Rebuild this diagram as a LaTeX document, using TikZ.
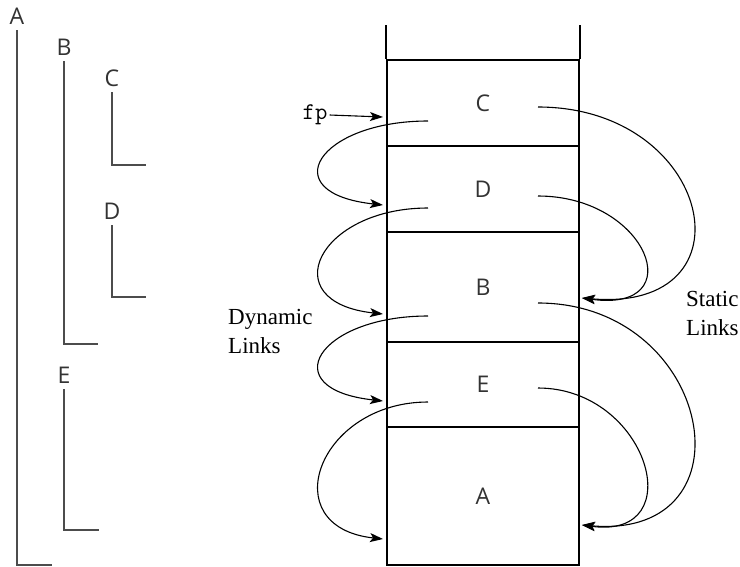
\documentclass[tikz,border=0pt]{standalone}
\usepackage{fontspec}
\setmainfont{Liberation Serif}
\newfontfamily\framefont{Open Sans}
\usetikzlibrary{arrows.meta, positioning}

\begin{document}
\begin{tikzpicture}[
    x=1pt, y=-1pt,
    >={Stealth[length=13pt, width=9pt, inset=3pt]},
    frame/.style={rectangle, draw=black, line width=1.8pt, minimum width=192pt, inner sep=0pt, font=\framefont\fontsize{23}{27}\selectfont, text=black!80},
    scopelbl/.style={anchor=south, inner xsep=0pt, inner ysep=5pt, font=\framefont\fontsize{23}{27}\selectfont, text=black!80},
    scopeline/.style={draw=black!70, line width=1.4pt},
    link/.style={->, line width=1.1pt},
    note/.style={align=left, inner sep=0pt, font=\fontsize{23}{29}\selectfont}
]
\useasboundingbox (0,0) rectangle (740,566);

% Static nesting of the procedures
\node[scopelbl] (sA) at (17,30) {A};
\node[scopelbl] (sB) at (64,61) {B};
\node[scopelbl] (sC) at (112,92) {C};
\node[scopelbl] (sD) at (112,225) {D};
\node[scopelbl] (sE) at (64,389) {E};
\draw[scopeline] (sA.south) -- ++(0,535) -- ++(35,0);
\draw[scopeline] (sB.south) -- ++(0,283) -- ++(34,0);
\draw[scopeline] (sC.south) -- ++(0,73) -- ++(34,0);
\draw[scopeline] (sD.south) -- ++(0,72) -- ++(34,0);
\draw[scopeline] (sE.south) -- ++(0,141) -- ++(35,0);

% Stack frames
\node[frame, minimum height=86pt] (fC) at (483,103) {C};
\node[frame, minimum height=86pt] (fD) at (483,189) {D};
\node[frame, minimum height=110pt] (fB) at (483,287) {B};
\node[frame, minimum height=85pt] (fE) at (483,384.5) {E};
\node[frame, minimum height=138pt] (fA) at (483,496) {A};
\draw[line width=1.8pt] (fC.north west) -- ++(0,-34);
\draw[line width=1.8pt] (fC.north east) -- ++(0,-34);

% Link ends
\coordinate (dC) at (428,121);
\coordinate (dD) at (428,208);
\coordinate (dB) at (428,316);
\coordinate (dE) at (428,402);
\coordinate (lD) at (383,205);
\coordinate (lB) at (383,314);
\coordinate (lE) at (383,401);
\coordinate (lA) at (383,539);
\coordinate (rC) at (538,107);
\coordinate (rD) at (538,196);
\coordinate (rB) at (538,303);
\coordinate (rE) at (538,388);
\coordinate (tB) at (582,298);
\coordinate (tA) at (582,525);
\coordinate (tfp) at (383,117);

% Frame pointer
\node[font=\ttfamily\fontsize{24}{28}\selectfont, inner sep=2pt] (fp) at (315,115) {fp};
\draw[link] (fp.east) -- (tfp);

% Dynamic links
\draw[link] (dC) .. controls +(-110,0) and +(-110,-12) .. (lD);
\draw[link] (dD) .. controls +(-110,0) and +(-110,-12) .. (lB);
\draw[link] (dB) .. controls +(-110,0) and +(-110,-12) .. (lE);
\draw[link] (dE) .. controls +(-110,0) and +(-110,-12) .. (lA);

% Static links
\draw[link] (rC) .. controls +(175,0) and +(175,15) .. (tB);
\draw[link] (rD) .. controls +(110,0) and +(110,15) .. (tB);
\draw[link] (rB) .. controls +(175,0) and +(175,15) .. (tA);
\draw[link] (rE) .. controls +(110,0) and +(110,15) .. (tA);

% Labels
\node[note, anchor=base west] (dyn) at (228,353) {Dynamic\\Links};
\node[note, anchor=base west] (stat) at (686,335) {Static\\Links};
\end{tikzpicture}
\end{document}
